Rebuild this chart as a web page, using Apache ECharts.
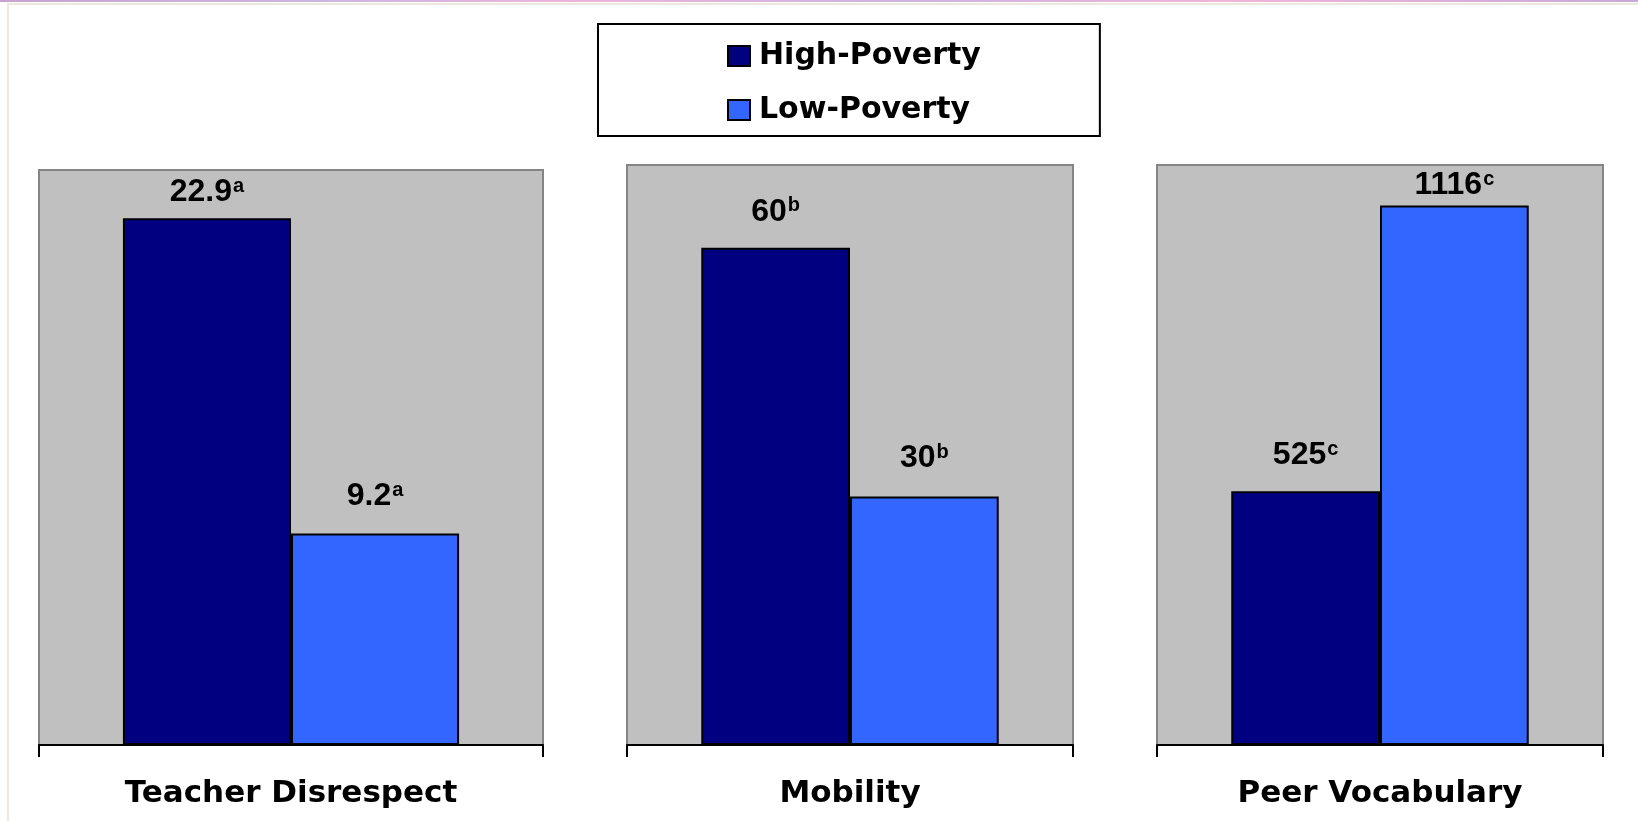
<!DOCTYPE html>
<html>
<head>
<meta charset="utf-8">
<script src="https://cdn.jsdelivr.net/npm/echarts@6/dist/echarts.min.js"></script>
<style>
  html, body { margin: 0; padding: 0; background: #ffffff; }
  #chart { width: 1638px; height: 821px; }
</style>
</head>
<body>
<div id="chart"></div>
<script>
// Measures compared between high- and low-poverty schools
const categories = ['Teacher Disrespect', 'Mobility', 'Peer Vocabulary'];
const seriesNames = ['High-Poverty', 'Low-Poverty'];
const highPoverty = [22.9, 60, 525];
const lowPoverty = [9.2, 30, 1116];
const noteMarks = ['a', 'b', 'c'];
const axisMax = [25, 70, 1200];

// Panel placement and label offsets (pixels)
const panels = [
  { left: 39, top: 170, width: 504, height: 575 },
  { left: 627, top: 165, width: 446, height: 580 },
  { left: 1157, top: 165, width: 446, height: 580 }
];
const highLabelGap = [10, 20, 20];
const lowLabelGap = [21, 22, 4];

const colors = { high: '#000080', low: '#3366FF' };
const wideFont = 'DejaVu Sans';
const numFont = 'Liberation Sans, Arial, sans-serif';

const valueRich = {
  v: { fontFamily: numFont, fontWeight: 'bold', fontSize: 32, lineHeight: 32, color: '#000' },
  s: { fontFamily: numFont, fontWeight: 'bold', fontSize: 20, lineHeight: 20, color: '#000', verticalAlign: 'top', padding: [0, 0, 0, 1] }
};

function valueLabel(value, mark, gap) {
  return {
    show: true,
    position: 'top',
    distance: gap,
    formatter: '{v|' + value + '}{s|' + mark + '}',
    rich: valueRich
  };
}

const grid = panels.map(p => ({
  left: p.left, top: p.top, width: p.width, height: p.height,
  show: true,
  backgroundColor: '#C0C0C0',
  borderColor: '#858585',
  borderWidth: 2,
  containLabel: false
}));

const xAxis = categories.map((c, i) => ({
  type: 'category',
  gridIndex: i,
  data: [c],
  boundaryGap: true,
  axisLine: { show: true, lineStyle: { color: '#000', width: 2 } },
  axisTick: { show: true, length: 12, lineStyle: { color: '#000', width: 2 } },
  axisLabel: {
    show: true, margin: 33, color: '#000',
    fontFamily: wideFont, fontWeight: 'bold', fontSize: 31, lineHeight: 31
  },
  splitLine: { show: false }
}));

const yAxis = axisMax.map((m, i) => ({
  type: 'value',
  gridIndex: i,
  min: 0,
  max: m,
  show: false,
  splitLine: { show: false }
}));

const series = [];
categories.forEach((c, i) => {
  series.push({
    name: seriesNames[0],
    type: 'bar',
    xAxisIndex: i, yAxisIndex: i,
    barGap: '0%',
    barCategoryGap: '33.3%',
    itemStyle: { color: colors.high, borderColor: '#000', borderWidth: 2 },
    label: valueLabel(highPoverty[i], noteMarks[i], highLabelGap[i]),
    data: [highPoverty[i]],
    animation: false
  });
  series.push({
    name: seriesNames[1],
    type: 'bar',
    xAxisIndex: i, yAxisIndex: i,
    barGap: '0%',
    barCategoryGap: '33.3%',
    itemStyle: { color: colors.low, borderColor: '#000', borderWidth: 2 },
    label: valueLabel(lowPoverty[i], noteMarks[i], lowLabelGap[i]),
    data: [lowPoverty[i]],
    animation: false
  });
});

const chart = echarts.init(document.getElementById('chart'), null, { renderer: 'canvas' });
chart.setOption({
  backgroundColor: '#ffffff',
  animation: false,
  grid: grid,
  xAxis: xAxis,
  yAxis: yAxis,
  legend: {
    data: seriesNames,
    orient: 'vertical',
    left: 598,
    top: 24,
    padding: [17, 119, 11, 129],
    itemWidth: 22,
    itemHeight: 20,
    itemGap: 24,
    selectedMode: false,
    backgroundColor: '#ffffff',
    borderColor: '#000',
    borderWidth: 2,
    borderRadius: 0,
    icon: 'rect',
    textStyle: {
      fontFamily: wideFont, fontWeight: 'bold', fontSize: 30, lineHeight: 30,
      color: '#000', padding: [0, 0, 0, 4]
    }
  },
  graphic: [
    // slide frame: thin colour band at the top and a pale border
    {
      type: 'rect', left: 0, top: 0, silent: true,
      shape: { width: 1638, height: 2 },
      style: {
        fill: new echarts.graphic.LinearGradient(0, 0, 1, 0, [
          { offset: 0, color: '#C9A3CF' },
          { offset: 0.2, color: '#CDB6E2' },
          { offset: 0.35, color: '#EDB5D9' },
          { offset: 0.55, color: '#CDB3E0' },
          { offset: 0.75, color: '#F0B6D8' },
          { offset: 1, color: '#C9A8D8' }
        ])
      }
    },
    {
      type: 'rect', left: 7, top: 3, silent: true,
      shape: { width: 1631, height: 2 },
      style: { fill: '#EEE8DC' }
    },
    {
      type: 'rect', left: 7, top: 3, silent: true,
      shape: { width: 2, height: 818 },
      style: { fill: '#EEE8DC' }
    }
  ],
  series: series
});
</script>
</body>
</html>
